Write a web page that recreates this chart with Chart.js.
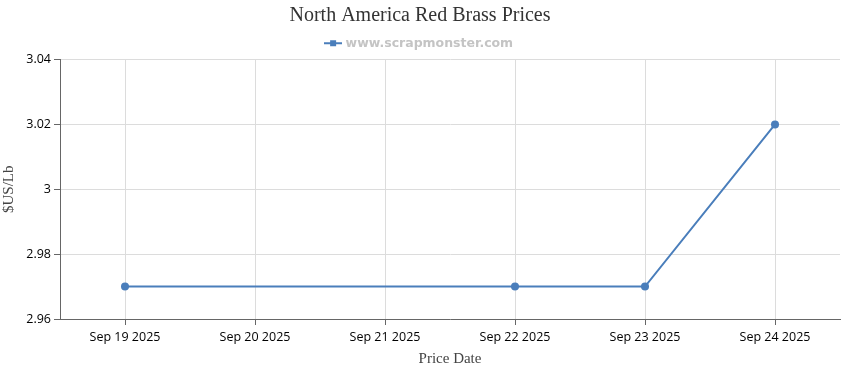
<!DOCTYPE html>
<html>
<head>
<meta charset="utf-8">
<script src="https://cdn.jsdelivr.net/npm/chart.js@4.4.1/dist/chart.umd.min.js"></script>
<style>
  html, body { margin: 0; padding: 0; background: #fff; }
  #wrap { width: 850px; height: 370px; }
</style>
</head>
<body>
<div id="wrap"><canvas id="grafikHarga" width="850" height="370"></canvas></div>
<script>
// data harga (null = tidak ada harga hari itu)
const priceDates = ['Sep 19 2025', 'Sep 20 2025', 'Sep 21 2025', 'Sep 22 2025', 'Sep 23 2025', 'Sep 24 2025'];
const redBrassPrices = [2.97, null, null, 2.97, 2.97, 3.02];
const yTicks = [2.96, 2.98, 3, 3.02, 3.04];

const lineColor = '#4a7ebb';

// ikon legend: garis dengan kotak kecil di tengah
function legendIcon() {
    const c = document.createElement('canvas');
    c.width = 18; c.height = 8;
    const g = c.getContext('2d');
    g.fillStyle = lineColor;
    g.fillRect(0, 3, 18, 2);
    g.fillRect(6, 1, 6, 6);
    return c;
}

document.addEventListener("DOMContentLoaded", function () {
    const ctx = document.getElementById('grafikHarga').getContext('2d');
    new Chart(ctx, {
        type: 'line',
        data: {
            labels: priceDates,
            datasets: [{
                label: 'www.scrapmonster.com',
                data: redBrassPrices,
                borderColor: lineColor,
                backgroundColor: lineColor,
                borderWidth: 2,
                pointRadius: 4,
                pointHoverRadius: 5,
                pointBorderWidth: 0,
                tension: 0,
                spanGaps: true,
                pointStyle: 'circle'
            }]
        },
        options: {
            responsive: false,
            animation: false,
            layout: { padding: { left: 0, right: 10, top: 2, bottom: 0 } },
            plugins: {
                title: {
                    display: true,
                    text: 'North America Red Brass Prices',
                    color: '#333',
                    font: { family: '"Liberation Serif", "Times New Roman", serif', size: 20, weight: 'normal' },
                    padding: { top: 2, bottom: 4 }
                },
                legend: {
                    display: true,
                    labels: {
                        color: '#c4c4c4',
                        font: { family: '"DejaVu Sans", Verdana, sans-serif', size: 12.5, weight: 'bold' },
                        usePointStyle: true,
                        boxHeight: 8,
                        padding: 5,
                        generateLabels: function (chart) {
                            return chart.data.datasets.map((ds, i) => ({
                                text: ds.label,
                                pointStyle: legendIcon(),
                                fillStyle: lineColor,
                                strokeStyle: lineColor,
                                fontColor: '#c4c4c4',
                                lineWidth: 0,
                                hidden: false,
                                datasetIndex: i
                            }));
                        }
                    }
                },
                tooltip: { enabled: true }
            },
            scales: {
                x: {
                    type: 'category',
                    offset: true,
                    grid: { color: '#dcdcdc', tickColor: '#666', tickLength: 6, offset: false },
                    border: { color: '#666', width: 1 },
                    ticks: {
                        color: '#000',
                        font: { family: '"Open Sans", sans-serif', size: 12.5 },
                        maxRotation: 0,
                        autoSkip: false,
                        padding: 5
                    },
                    title: {
                        display: true,
                        text: 'Price Date',
                        color: '#444',
                        font: { family: '"Liberation Serif", serif', size: 15 },
                        padding: { top: 0, bottom: 2 }
                    }
                },
                y: {
                    min: 2.96,
                    max: 3.04,
                    afterBuildTicks: function (scale) {
                        scale.ticks = yTicks.map(v => ({ value: v }));
                    },
                    afterFit: function (scale) { scale.width = 60; },
                    grid: { color: '#dcdcdc', tickColor: '#666', tickLength: 6 },
                    border: { color: '#666', width: 1 },
                    ticks: {
                        color: '#000',
                        font: { family: '"Open Sans", sans-serif', size: 12.5 },
                        padding: 3,
                        callback: function (v) { return String(Math.round(v * 100) / 100); }
                    },
                    title: {
                        display: true,
                        text: '$US/Lb',
                        color: '#444',
                        font: { family: '"Liberation Serif", serif', size: 15 },
                        padding: { top: 0, bottom: 0 }
                    }
                }
            }
        }
    });
});
</script>
</body>
</html>
